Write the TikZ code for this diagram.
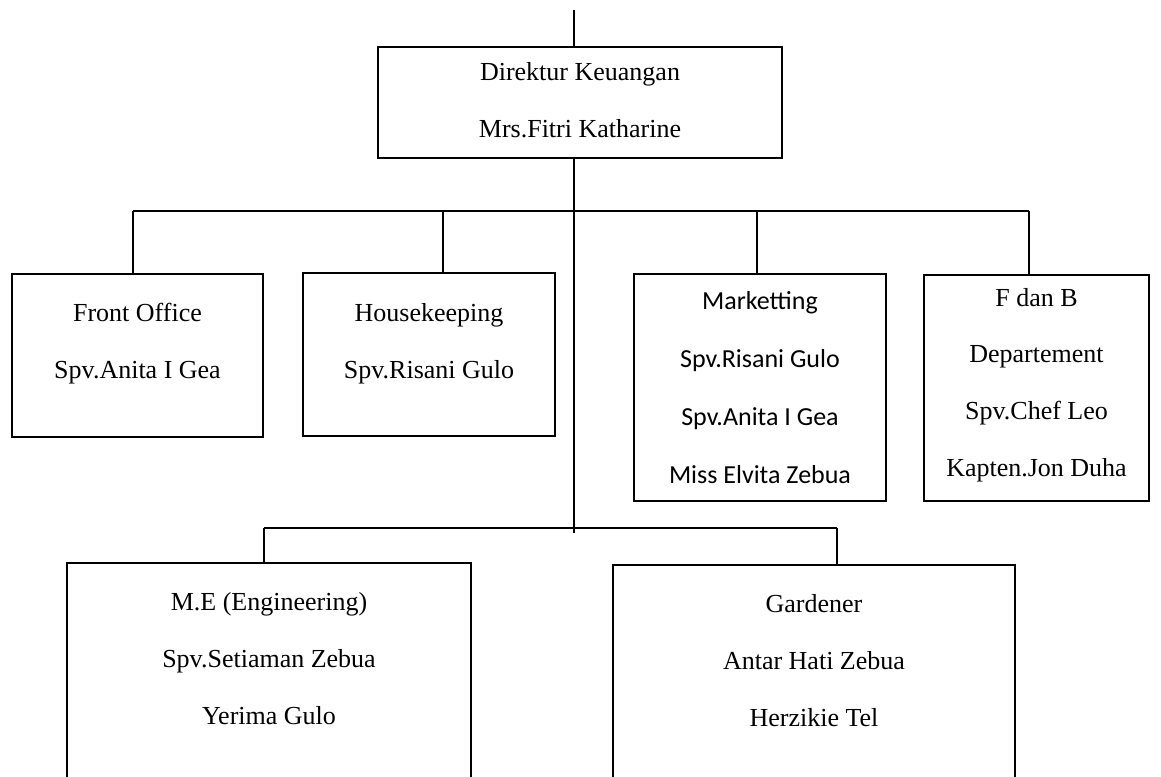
\documentclass[tikz,border=0pt]{standalone}
\usepackage{fontspec}
\setmainfont{Liberation Serif}
\newfontfamily\carlito{Carlito}
\usetikzlibrary{positioning}

\tikzset{
  unitbox/.style={draw, line width=1pt, inner sep=0pt, outer sep=0pt},
  thickbox/.style={unitbox, line width=2pt},
  boxtext/.style={align=center, inner sep=0pt, font=\fontsize{19.5}{42.75}\selectfont},
  link/.style={line width=1pt}
}

\begin{document}
\begin{tikzpicture}[x=0.75pt, y=-0.75pt]
        \useasboundingbox (0,0) rectangle (1161,776);
        % boxes
        \node[unitbox, minimum width=303pt, minimum height=83.25pt] (dir) at (580,102.5) {};
        \node[unitbox, minimum width=188.25pt, minimum height=122.25pt] (fo) at (137.5,355.5) {};
        \node[unitbox, minimum width=189pt, minimum height=122.25pt] (hk) at (429,354.5) {};
        \node[thickbox, minimum width=189pt, minimum height=170.25pt] (mkt) at (760,387.5) {};
        \node[unitbox, minimum width=168.75pt, minimum height=169.5pt] (fnb) at (1036.5,388) {};
        \node[thickbox, minimum width=303pt, minimum height=177.75pt] (me) at (269,681.5) {};
        \node[thickbox, line width=1.8pt, minimum width=301.5pt, minimum height=176.25pt] (gdn) at (814,682.5) {};
        % texts
        \node[boxtext] (dir-t) at (580,100) {Direktur Keuangan\\Mrs.Fitri Katharine};
        \node[boxtext] (fo-t) at (137.5,343.5) {Front Office\\Spv.Anita I Gea};
        \node[boxtext] (hk-t) at (429,343.5) {Housekeeping\\Spv.Risani Gulo};
        \node[boxtext, font=\carlito\fontsize{19.5}{43.5}\selectfont] (mkt-t) at (760,387.5) {Marketting\\Spv.Risani Gulo\\Spv.Anita I Gea\\Miss Elvita Zebua};
        \node[boxtext, font=\fontsize{19.5}{42.5}\selectfont] (fnb-t) at (1036.5,385) {F dan B\\Departement\\Spv.Chef Leo\\Kapten.Jon Duha};
        \node[boxtext] (me-t) at (269,659) {M.E (Engineering)\\Spv.Setiaman Zebua\\Yerima Gulo};
        \node[boxtext] (gdn-t) at (814,661) {Gardener\\Antar Hati Zebua\\Herzikie Tel};
        % connectors
        \coordinate (top) at (574,10);
        \coordinate (busL) at (133,211);
        \coordinate (busR) at (1029,211);
        \coordinate (lowL) at (264,528);
        \coordinate (lowR) at (837,528);
        \draw[link] (top) -- (top |- dir.north);
        \draw[link] (top |- dir.south) -- ([yshift=-3.75pt]top |- lowL);
        \draw[link] (busL) -- (busR);
        \draw[link] (busL) -- (busL |- fo.north);
        \draw[link] (hk.north -| 443,0) -- (443,211);
        \draw[link] (mkt.north -| 757,0) -- (757,211);
        \draw[link] (busR) -- (busR |- fnb.north);
        \draw[link] (lowL) -- (lowR);
        \draw[link, line width=1.5pt] (lowL) -- (lowL |- me.north);
        \draw[link] (lowR) -- (lowR |- gdn.north);
      \end{tikzpicture}
\end{document}
